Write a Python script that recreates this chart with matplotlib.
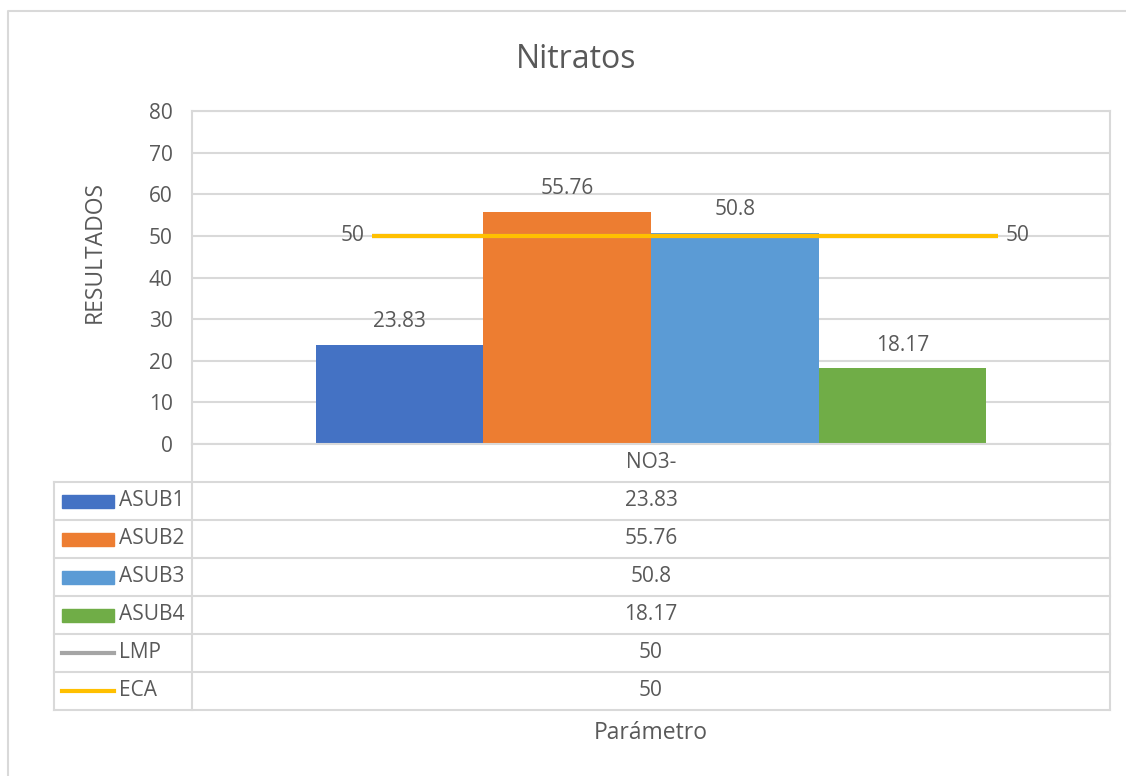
import numpy as np
import matplotlib.pyplot as plt

plt.rcParams['font.family'] = ['Open Sans', 'DejaVu Sans']

# data
title = 'Nitratos'
category = 'NO3-'
series = ['ASUB1', 'ASUB2', 'ASUB3', 'ASUB4']
values = [23.83, 55.76, 50.8, 18.17]
bar_colors = ['#4472C4', '#ED7D31', '#5B9BD5', '#70AD47']
lines = ['LMP', 'ECA']
line_values = [50, 50]
line_colors = ['#A5A5A5', '#FFC000']
yticks = [0, 10, 20, 30, 40, 50, 60, 70, 80]

W, H = 1126, 776
txt = '#595959'
grid = '#D9D9D9'
fs = 15

fig = plt.figure(figsize=(W / 100, H / 100), dpi=100)

# overlay in pixel coordinates for the border and data table
ov = fig.add_axes([0, 0, 1, 1])
ov.set_xlim(0, W)
ov.set_ylim(H, 0)
ov.axis('off')

# plot area, in pixels
px0, px1, py0, py1 = 192, 1110, 111, 444
ax = fig.add_axes([px0 / W, (H - py1) / H, (px1 - px0) / W, (py1 - py0) / H])
ax.set_facecolor('none')
ax.set_xlim(0, 1)
ax.set_ylim(0, 80)
ax.set_yticks(yticks)
ax.set_xticks([])
ax.tick_params(axis='y', length=0, pad=14, labelsize=fs, labelcolor=txt)
ax.grid(axis='y', color=grid, linewidth=1.5)
ax.set_axisbelow(True)
for s in ax.spines.values():
    s.set_color(grid)
    s.set_linewidth(1.5)

bw = 0.1825
for i, (v, c) in enumerate(zip(values, bar_colors)):
    x = 0.5 + (i - 1.5) * bw
    ax.bar(x, v, width=bw, color=c, zorder=2)
    ax.text(x, v + 3.0, f'{v:g}', ha='center', va='bottom', fontsize=fs, color=txt)

# limit lines (LMP hidden under ECA)
lx0, lx1 = 0.196, 0.878
for v, c in zip(line_values, line_colors):
    ax.plot([lx0, lx1], [v, v], color=c, linewidth=3, zorder=3, solid_capstyle='butt')
ax.text(lx0 - 0.008, line_values[-1], f'{line_values[-1]:g}', ha='right', va='center',
        fontsize=fs, color=txt)
ax.text(lx1 + 0.008, line_values[-1], f'{line_values[-1]:g}', ha='left', va='center',
        fontsize=fs, color=txt)

fig.text(0.5115, 1 - 59 / H, title, ha='center', va='center', fontsize=23, color=txt)
ov.text(95, 252, 'RESULTADOS', rotation=90, ha='center', va='center', fontsize=16.5, color=txt)

# chart border
ov.plot([8, 8, W + 5], [H + 5, 11, 11], color=grid, linewidth=1.5)

# data table
tx0, tx1 = 54, 192
row_h = 38
top = 482
names = series + lines
tvals = values + line_values
ov.text((px0 + px1) / 2, (py1 + top) / 2, category, ha='center', va='center',
        fontsize=fs, color=txt)
ov.plot([px0, px0], [py1, top + row_h * len(names)], color=grid, linewidth=1.5)
ov.plot([px1, px1], [py1, top + row_h * len(names)], color=grid, linewidth=1.5)
ov.plot([tx0, tx0], [top, top + row_h * len(names)], color=grid, linewidth=1.5)
for k in range(len(names) + 1):
    y = top + k * row_h
    ov.plot([tx0, px1], [y, y], color=grid, linewidth=1.5)
for k, (n, v) in enumerate(zip(names, tvals)):
    yc = top + k * row_h + row_h / 2
    if k < len(series):
        ov.add_patch(plt.Rectangle((62, yc - 6.5), 52, 13, color=bar_colors[k]))
    else:
        ov.plot([62, 114], [yc, yc], color=line_colors[k - len(series)], linewidth=3)
    ov.text(119, yc, n, ha='left', va='center', fontsize=fs, color=txt)
    ov.text((px0 + px1) / 2, yc, f'{v:g}', ha='center', va='center', fontsize=fs, color=txt)

ov.text((px0 + px1) / 2, 733, 'Parámetro', ha='center', va='center', fontsize=16.5, color=txt)

fig.savefig('out.png', dpi=100)
